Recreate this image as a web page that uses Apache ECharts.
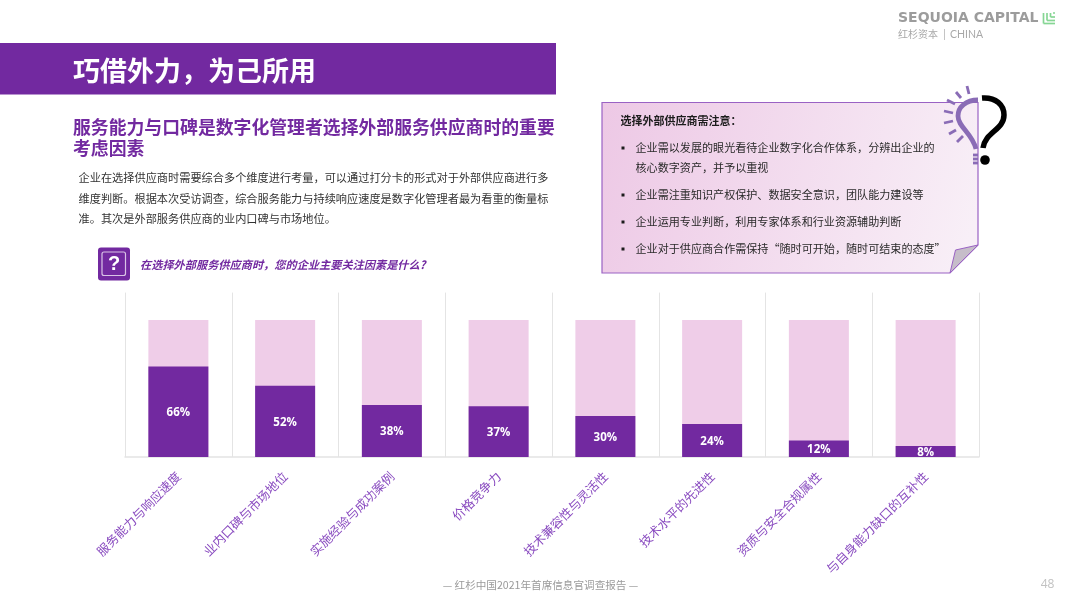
<!DOCTYPE html>
<html>
<head>
<meta charset="utf-8">
<title>巧借外力</title>
<script src="https://cdn.jsdelivr.net/npm/echarts@6/dist/echarts.min.js"></script>
<style>
  html,body{margin:0;padding:0;background:#fff;}
  #chart{width:1080px;height:608px;}
</style>
</head>
<body>
<div id="chart"></div>
<script>
  //chart data
  var categories = ['服务能力与响应速度','业内口碑与市场地位','实施经验与成功案例','价格竞争力','技术兼容性与灵活性','技术水平的先进性','资质与安全合规属性','与自身能力缺口的互补性'];
  var shareValues = [66,52,38,37,30,24,12,8];
  var trackValues = [100,100,100,100,100,100,100,100];

  //page text
  var pageTitle = '巧借外力\uFF0C为己所用';
  var headLines = ['服务能力与口碑是数字化管理者选择外部服务供应商时的重要','考虑因素'];
  var bodyLines = ['企业在选择供应商时需要综合多个维度进行考量\uFF0C可以通过打分卡的形式对于外部供应商进行多','维度判断。根据本次受访调查\uFF0C综合服务能力与持续响应速度是数字化管理者最为看重的衡量标','准。其次是外部服务供应商的业内口碑与市场地位。'];
  var questionText = '在选择外部服务供应商时\uFF0C您的企业主要关注因素是什么?';
  var noteTitle = '选择外部供应商需注意\uFF1A';
  var noteLines = ['企业需以发展的眼光看待企业数字化合作体系\uFF0C分辨出企业的','核心数字资产\uFF0C并予以重视','企业需注重知识产权保护、数据安全意识\uFF0C团队能力建设等','企业运用专业判断\uFF0C利用专家体系和行业资源辅助判断','企业对于供应商合作需保持\u201C随时可开始\uFF0C随时可结束的态度\u201D'];
  var noteLineY = [148,168,195,222,249];
  var noteBullets = [148,195,222,249];
  var footerText = '— 红杉中国2021年首席信息官调查报告 —';

  var PURPLE = '#7229a0';
  var CJK = '"Noto Sans CJK SC"';

  function text(x,y,str,size,color,opt){
    opt = opt || {};
    return {
      type:'text',
      x:x,
      y:y,
      silent:true,
      style:{
        text:str,
        fontSize:size,
        fill:color,
        fontFamily:opt.family || CJK,
        fontWeight:opt.weight || 'normal',
        fontStyle:opt.style || 'normal',
        align:opt.align || 'left',
        verticalAlign:'middle'
      }
    };
  }

  function line(x1,y1,x2,y2,color,width){
    return {
      type:'line',
      silent:true,
      shape:{x1:x1,y1:y1,x2:x2,y2:y2},
      style:{stroke:color,lineWidth:width}
    };
  }

  function curve(p,color,width){
    return {
      type:'bezierCurve',
      silent:true,
      shape:{x1:p[0],y1:p[1],cpx1:p[2],cpy1:p[3],cpx2:p[4],cpy2:p[5],x2:p[6],y2:p[7]},
      style:{fill:null,stroke:color,lineWidth:width}
    };
  }

  var items = [];

  //title band
  items.push({type:'rect',silent:true,shape:{x:0,y:43,width:556,height:51.5},style:{fill:PURPLE}});
  items.push(text(73,71,pageTitle,27,'#fff',{weight:'bold'}));

  //heading and intro
  items.push(text(73,127,headLines[0],17.85,PURPLE,{weight:'bold'}));
  items.push(text(73,148,headLines[1],17.85,PURPLE,{weight:'bold'}));
  bodyLines.forEach(function(str,i){
    items.push(text(78.5,178+i*20.5,str,11.2,'#333'));
  });

  //question icon
  items.push({type:'rect',silent:true,shape:{x:98,y:247.5,width:32,height:33,r:3},style:{fill:PURPLE}});
  items.push({type:'rect',silent:true,shape:{x:102,y:252,width:23.5,height:23.5,r:2},style:{fill:null,stroke:'#d9c3e6',lineWidth:1.2}});
  items.push(text(114,264,'?',20,'#fff',{weight:'bold',align:'center',family:'"Liberation Sans"'}));
  items.push(text(140,265,questionText,11.2,PURPLE,{weight:'bold',style:'italic'}));

  //note card
  items.push({
    type:'polygon',
    silent:true,
    shape:{points:[[602,102.5],[978,102.5],[978,245],[950,273],[602,273]]},
    style:{
      fill:{type:'linear',x:0,y:0,x2:1,y2:0.6,colorStops:[{offset:0,color:'#edc8e5'},{offset:1,color:'#f8eff7'}]},
      stroke:'#9a62c4',
      lineWidth:1.2
    }
  });
  items.push({type:'polygon',silent:true,shape:{points:[[955.5,250],[978,245],[950,273]]},style:{fill:'#c6bdc9',stroke:'#9a62c4',lineWidth:1}});
  items.push(text(620.5,121,noteTitle,11,'#1c1c1c',{weight:'bold'}));
  noteLines.forEach(function(str,i){
    items.push(text(635.5,noteLineY[i],str,11.08,'#2a2a2a'));
  });
  noteBullets.forEach(function(y){
    items.push({type:'rect',silent:true,shape:{x:621.5,y:y-1.5,width:3,height:3},style:{fill:'#1c1c1c'}});
  });

  //bulb and question mark
  var BULB = '#8a6cb6';
  items.push(curve([978,100,966,100,958,107,958,116],BULB,4.8));
  items.push(curve([958,116,958,127,972,133,976,149],BULB,4.8));
  [[956,92,961,98],[967,86,969,94],[947,100,955,104],[944,111,953,113],[944,123,953,121],[949,134,956,130],[957,142,963,136],[973,155,978,155],[973,159,978,159],[973,163,978,163]].forEach(function(p){
    items.push(line(p[0],p[1],p[2],p[3],BULB,2.8));
  });
  items.push(curve([982,98,996,97,1004,105,1004,115],'#000',5.5));
  items.push(curve([1004,115,1004,130,985,132,983,148],'#000',5.5));
  items.push({type:'circle',silent:true,shape:{cx:985,cy:160,r:4.8},style:{fill:'#000'}});

  //logo
  items.push(text(898,18.5,'SEQUOIA CAPITAL',14,'#9c9c9c',{weight:'bold',family:'"DejaVu Sans"'}));
  items.push(text(898,34.5,'红杉资本',10,'#a8a8a8'));
  items.push(text(950,34.5,'CHINA',10.5,'#a8a8a8',{family:'Lato'}));
  items.push(line(944.5,29,944.5,40,'#b5b5b5',0.8));
  [[1043.5,13,1043.5,23.5],[1043.5,23.5,1055,23.5],[1047,13,1047,20.5],[1047,20.5,1055,20.5],[1050.5,13,1050.5,17],[1050.5,17,1055,17],[1053,13,1055,13]].forEach(function(p){
    items.push(line(p[0],p[1],p[2],p[3],'#86d694',1.7));
  });

  //footer
  items.push(text(540.5,585,footerText,10.6,'#9a9a9a',{align:'center'}));
  items.push(text(1047.5,585,'48',12,'#c2c2c2',{align:'center',family:'"Open Sans"'}));

  var option = {
    animation:false,
    backgroundColor:'#fff',
    grid:{left:125,top:292.6,width:854,height:164.4},
    xAxis:{
      type:'category',
      data:categories,
      axisLine:{lineStyle:{color:'#e4e4e4',width:1.5}},
      axisTick:{show:false},
      splitLine:{show:true,lineStyle:{color:'#e4e4e4',width:1}},
      axisLabel:{
        interval:0,
        rotate:45,
        margin:17,
        fontSize:12.5,
        color:'#8a4cc0',
        fontFamily:CJK
      }
    },
    yAxis:{type:'value',min:0,max:120,show:false},
    series:[
      {
        type:'bar',
        data:trackValues,
        barWidth:60,
        barGap:'-100%',
        itemStyle:{color:'#efcde8'},
        silent:true
      },
      {
        type:'bar',
        data:shareValues,
        barWidth:60,
        itemStyle:{color:PURPLE},
        label:{
          show:true,
          position:'inside',
          offset:[0,1],
          formatter:'{c}%',
          color:'#fff',
          fontSize:11.5,
          fontWeight:'bold',
          fontFamily:'"Open Sans"'
        }
      }
    ],
    graphic:{elements:items}
  };

  var myChart = echarts.init(document.getElementById('chart'));
  myChart.setOption(option);
</script>
</body>
</html>
